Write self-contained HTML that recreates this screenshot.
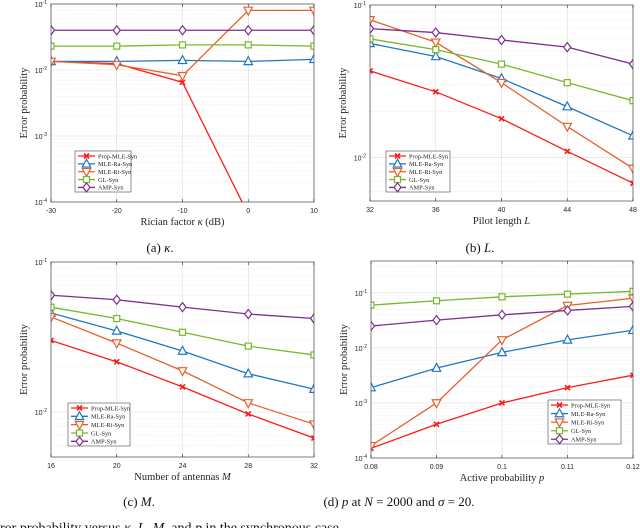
<!DOCTYPE html>
<html><head><meta charset="utf-8">
<style>
html,body{margin:0;padding:0;background:#fff;}
body{width:640px;height:528px;overflow:hidden;position:relative;font-family:"Liberation Serif",serif;}
svg{position:absolute;left:0;top:0;}
</style></head>
<body>
<svg id="fig" width="640" height="528" viewBox="0 0 640 528"></svg>
<script>
const seriesNames=["Prop-MLE-Syn","MLE-Ra-Syn","MLE-Ri-Syn","GL-Syn","AMP-Syn"];
const seriesColors=["#ff1a1a","#1f77c4","#e8602a","#77b82a","#7e2f8e"];
const seriesMarkers=["x","tri","tridown","square","diamond"];

// Panel (a): Rician factor
const aX=[-30,-20,-10,0,10];
const aProp=[0.0135,0.0125,0.0065,0.000065,0.000001];
const aRa=[0.0135,0.0135,0.014,0.0135,0.0145];
const aRi=[0.0135,0.012,0.0082,0.08,0.08];
const aGL=[0.023,0.023,0.024,0.024,0.023];
const aAMP=[0.040,0.040,0.040,0.040,0.040];
const aXTicks=["-30","-20","-10","0","10"];

// Panel (b): pilot length
const bX=[32,36,40,44,48];
const bProp=[0.037,0.027,0.018,0.011,0.0068];
const bRa=[0.056,0.046,0.033,0.0216,0.0139];
const bRi=[0.080,0.057,0.031,0.016,0.0085];
const bGL=[0.060,0.051,0.041,0.031,0.0236];
const bAMP=[0.070,0.066,0.059,0.053,0.041];
const bXTicks=["32","36","40","44","48"];

// Panel (c): antennas
const cX=[16,20,24,28,32];
const cProp=[0.030,0.0216,0.0147,0.0097,0.0067];
const cRa=[0.0457,0.0347,0.0255,0.018,0.0142];
const cRi=[0.043,0.0288,0.0188,0.0115,0.0083];
const cGL=[0.050,0.042,0.034,0.0275,0.024];
const cAMP=[0.060,0.056,0.050,0.045,0.042];
const cXTicks=["16","20","24","28","32"];

// Panel (d): active probability
const dX=[0.08,0.09,0.10,0.11,0.12];
const dProp=[0.00015,0.00041,0.001,0.0019,0.0032];
const dRa=[0.0019,0.0043,0.0083,0.014,0.021];
const dRi=[0.000167,0.001,0.014,0.059,0.08];
const dGL=[0.060,0.072,0.085,0.095,0.107];
const dAMP=[0.025,0.032,0.040,0.048,0.057];
const dXTicks=["0.08","0.09","0.1","0.11","0.12"];

const NS="http://www.w3.org/2000/svg";
const svg=document.getElementById("fig");
function mk(tag,attrs,parent){const e=document.createElementNS(NS,tag);for(const k in attrs)e.setAttribute(k,attrs[k]);(parent||svg).appendChild(e);return e;}

function marker(g,type,x,y,col){
  const r=4.2;let e;
  if(type==="x"){e=mk("path",{d:`M${x-2.5},${y-2.5}L${x+2.5},${y+2.5}M${x-2.5},${y+2.5}L${x+2.5},${y-2.5}`,stroke:col,"stroke-width":1.6,fill:"none"},g);}
  else if(type==="tri"){e=mk("polygon",{points:`${x},${y-r-0.5} ${x-r},${y+r-1} ${x+r},${y+r-1}`,fill:"#fff",stroke:col,"stroke-width":1.2},g);}
  else if(type==="tridown"){e=mk("polygon",{points:`${x},${y+r+0.5} ${x-r},${y-r+1} ${x+r},${y-r+1}`,fill:"#fff",stroke:col,"stroke-width":1.2},g);}
  else if(type==="square"){e=mk("rect",{x:x-3,y:y-3,width:6,height:6,fill:"#fff",stroke:col,"stroke-width":1.2},g);}
  else {e=mk("polygon",{points:`${x},${y-4.5} ${x-3.5},${y} ${x},${y+4.5} ${x+3.5},${y}`,fill:"#fff",stroke:col,"stroke-width":1.2},g);}
  return e;
}

function panel(id,box,xs,series,xTicks,logMin,logMax,yTickExps,xlabelHTML,legendBox){
  const {l,r,t,b}=box;
  const g=mk("g",{});
  
  
  const xMin=xs[0],xMax=xs[xs.length-1];
  const X=v=>l+(v-xMin)/(xMax-xMin)*(r-l);
  const Y=v=>t+(logMax-Math.log10(v))/(logMax-logMin)*(b-t);
  const clipId="clip"+id;
  const cp=mk("clipPath",{id:clipId},g);mk("rect",{x:l,y:t,width:r-l,height:b-t},cp);
  mk("rect",{x:l,y:t,width:r-l,height:b-t,fill:"#fff"},g);
  // grid
  const grid=mk("g",{"clip-path":`url(#${clipId})`},g);
  
  
  for(let e=Math.floor(logMin);e<=Math.ceil(logMax);e++){
    for(let m=1;m<10;m++){
      const lv=e+Math.log10(m);if(lv<logMin||lv>logMax)continue;
      const yy=Y(Math.pow(10,lv));
      mk("line",{x1:l,x2:r,y1:yy,y2:yy,stroke:m===1?"#dcdcdc":"#e4e4e4","stroke-width":0.6,"stroke-dasharray":m===1?"":"1,1.5"},grid);
    }
  }
  xs.forEach(v=>mk("line",{x1:X(v),x2:X(v),y1:t,y2:b,stroke:"#dcdcdc","stroke-width":0.6},grid));
  // series
  const sg=mk("g",{"clip-path":`url(#${clipId})`},g);
  series.forEach((vals,si)=>{
    const pl=mk("polyline",{points:vals.map((v,i)=>X(xs[i])+","+Y(v)).join(" "),fill:"none",stroke:seriesColors[si],"stroke-width":1.3},sg);
    
    
    vals.forEach((v,i)=>{const yy=Y(v);if(yy<t-6||yy>b+6)return;
      const m=marker(sg,seriesMarkers[si],X(xs[i]),yy,seriesColors[si]);
      
      });
  });
  // axes box
  const ax=mk("rect",{x:l,y:t,width:r-l,height:b-t,fill:"none",stroke:"#262626","stroke-width":0.6},g);
  
  
  // x ticks
  xs.forEach((v,i)=>{
    mk("line",{x1:X(v),x2:X(v),y1:b,y2:b-3,stroke:"#262626","stroke-width":0.6},g);
    mk("line",{x1:X(v),x2:X(v),y1:t,y2:t+3,stroke:"#262626","stroke-width":0.6},g);
    const tx=mk("text",{x:X(v),y:b+11,"font-family":"Liberation Sans, sans-serif","font-size":7,fill:"#262626","text-anchor":"middle"},g);
    tx.textContent=xTicks[i];
    
    
  });
  yTickExps.forEach(e=>{
    const yy=Y(Math.pow(10,e));
    const tx=mk("text",{x:l-4,y:yy+3,"font-family":"Liberation Sans, sans-serif","font-size":7,fill:"#262626","text-anchor":"end"},g);
    tx.innerHTML="10<tspan dy='-3' font-size='5'>"+e+"</tspan>";
    
    
  });
  const yl=mk("text",{x:0,y:0,transform:`translate(${l-24},${(t+b)/2}) rotate(-90)`,"font-size":10.5,fill:"#262626","text-anchor":"middle"},g);
  yl.textContent="Error probability";
  
  
  const xl=mk("text",{x:(l+r)/2,y:b+23,"font-size":10.5,fill:"#262626","text-anchor":"middle"},g);
  xl.innerHTML=xlabelHTML;
  
  
  // legend
  const lg=mk("g",{},g);
  
  
  const [lx,ly,lw,lh]=legendBox;
  mk("rect",{x:lx,y:ly,width:lw,height:lh,fill:"#fff",stroke:"#262626","stroke-width":0.5},lg);
  seriesNames.forEach((n,i)=>{
    const yy=ly+5+i*(lh-8)/4.2;
    const e=mk("g",{},lg);
    
    
    mk("line",{x1:lx+3,x2:lx+20,y1:yy,y2:yy,stroke:seriesColors[i],"stroke-width":1.3},e);
    marker(e,seriesMarkers[i],lx+11.5,yy,seriesColors[i]);
    const tx=mk("text",{x:lx+23,y:yy+2.3,"font-size":6.3,fill:"#262626"},e);
    tx.textContent=n;
  });
}

panel("a",{l:51,r:314,t:4,b:202},aX,[aProp,aRa,aRi,aGL,aAMP],aXTicks,-4,-1,[-4,-3,-2,-1],
  "Rician factor <tspan font-style='italic'>κ</tspan> (dB)",[75,151,56,41]);
panel("b",{l:370,r:633,t:5,b:201},bX,[bProp,bRa,bRi,bGL,bAMP],bXTicks,Math.log10(0.0052),-1,[-2,-1],
  "Pilot length <tspan font-style='italic'>L</tspan>",[386,151,64,41]);
panel("c",{l:51,r:314,t:262,b:457},cX,[cProp,cRa,cRi,cGL,cAMP],cXTicks,-2.3,-1,[-2,-1],
  "Number of antennas <tspan font-style='italic'>M</tspan>",[68,403,62,43]);
panel("d",{l:371,r:633,t:261,b:458},dX,[dProp,dRa,dRi,dGL,dAMP],dXTicks,-4,-0.42,[-4,-3,-2,-1],
  "Active probability <tspan font-style='italic'>p</tspan>",[548,400,73,44]);

function cap(x,y,html,name){const t=mk("text",{x:x,y:y,"font-size":13,fill:"#111","text-anchor":"middle"});t.innerHTML=html;
  
  }
cap(160,252,"(a)  <tspan font-style='italic'>κ</tspan>.","caption-a");
cap(480,252,"(b)  <tspan font-style='italic'>L</tspan>.","caption-b");
cap(139,506,"(c)  <tspan font-style='italic'>M</tspan>.","caption-c");
cap(399,506,"(d) <tspan font-style='italic'>p</tspan> at <tspan font-style='italic'>N</tspan> = 2000 and <tspan font-style='italic'>σ</tspan> = 20.","caption-d");
const fc=mk("text",{x:0,y:532,"font-size":14,fill:"#111"});
fc.innerHTML="ror probability versus <tspan font-style='italic'>κ</tspan>, <tspan font-style='italic'>L</tspan>, <tspan font-style='italic'>M</tspan>, and <tspan font-style='italic'>p</tspan> in the synchronous case.";


</script>
</body></html>
